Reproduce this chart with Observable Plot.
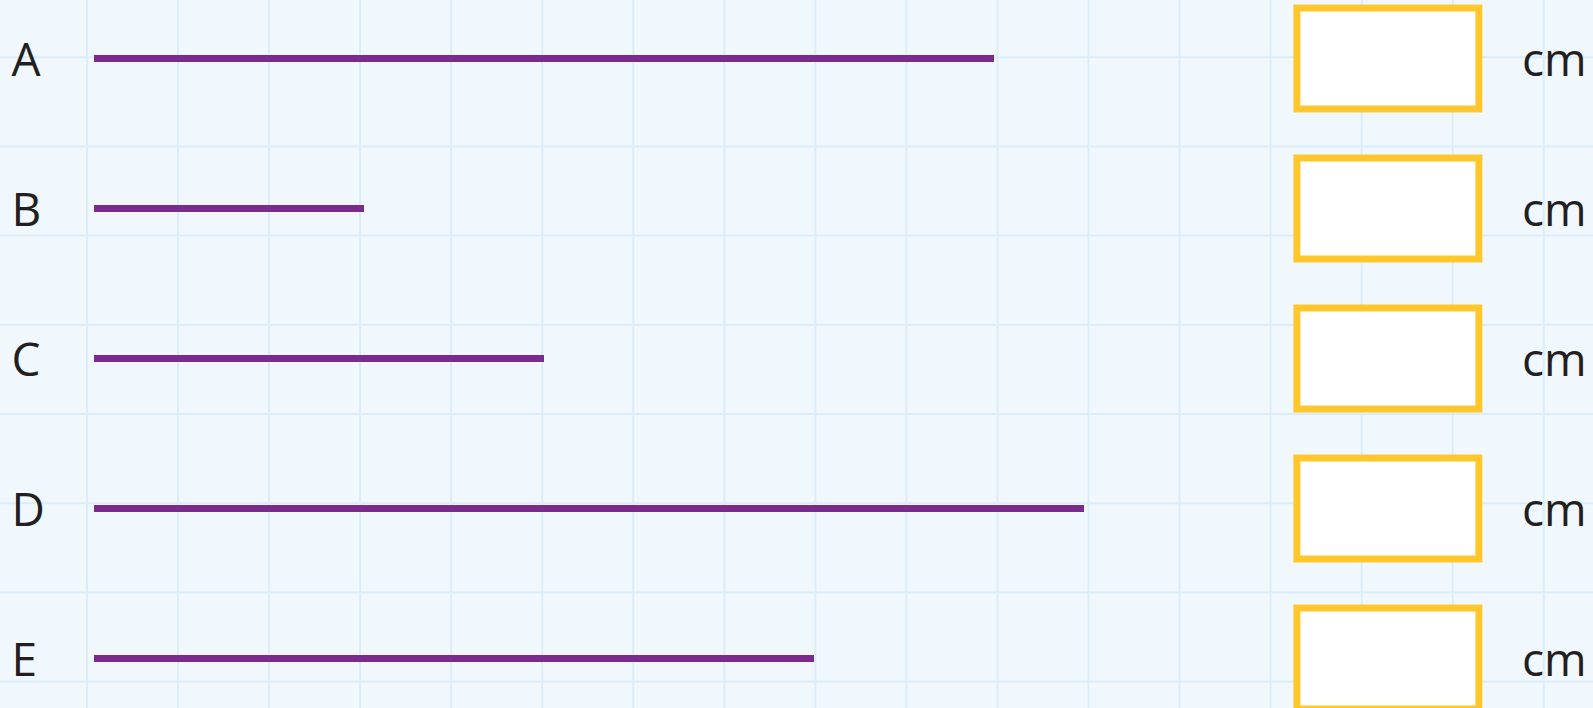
<!DOCTYPE html>
<html>
<head>
<meta charset="utf-8">
<script src="https://cdn.jsdelivr.net/npm/d3@7"></script>
<script src="https://cdn.jsdelivr.net/npm/@observablehq/plot@0.6"></script>
<style>
  html, body { margin: 0; padding: 0; background: #F0F8FD; overflow: hidden; }
  #chart svg.paper {
    display: block !important;
    max-width: none !important;
    background-color: #F0F8FD !important;
    background-image:
      linear-gradient(90deg, #DAEDF9 2px, transparent 2px),
      linear-gradient(180deg, #DAEDF9 2px, transparent 2px) !important;
    background-size: 91.05px 89.2px !important;
    background-position: 86px 56.3px !important;
    background-repeat: repeat !important;
  }
</style>
</head>
<body>
<div id="chart"></div>
<script>
// ---- data ----
const labels = ["A", "B", "C", "D", "E"];
const lengthsCm = [10, 3, 5, 11, 8];
const unitLabel = "cm";

// ---- layout ----
const BOX_X = 14.371;      // answer box centre, in cm on the x scale
const BOX_W = 182;         // answer box size in px (stroke centre line)
const BOX_H = 101;
const UNIT_X = 15.86;

const answerBox = {
  draw(context) {
    context.rect(-BOX_W / 2, -BOX_H / 2, BOX_W, BOX_H);
  }
};

const rows = labels.map((label, i) => ({label, length: lengthsCm[i], unit: unitLabel}));

const chart = Plot.plot({
  width: 1593,
  height: 708,
  marginLeft: 94,
  marginRight: 59,
  marginTop: 57,
  marginBottom: 50,
  className: "paper",
  style: {fontFamily: "'Open Sans', sans-serif", overflow: "visible"},
  x: {domain: [0, 16], axis: null},
  y: {type: "point", domain: labels, padding: 0, axis: null},
  marks: [
    Plot.ruleY(rows, {y: "label", x1: 0, x2: "length", stroke: "#7A2B8D", strokeWidth: 7, strokeLinecap: "butt"}),
    Plot.dot(rows, {x: BOX_X, y: "label", r: 50, symbol: answerBox, fill: "white", stroke: "#FFC72C", strokeWidth: 7}),
    Plot.text(rows, {x: 0, y: "label", text: "label", textAnchor: "start", dx: -83, dy: 2.5, fontSize: 46, fill: "#231F20"}),
    Plot.text(rows, {x: UNIT_X, y: "label", text: "unit", textAnchor: "start", dy: 2.5, fontSize: 46, fill: "#231F20"})
  ]
});
document.getElementById("chart").appendChild(chart);
</script>
</body>
</html>
